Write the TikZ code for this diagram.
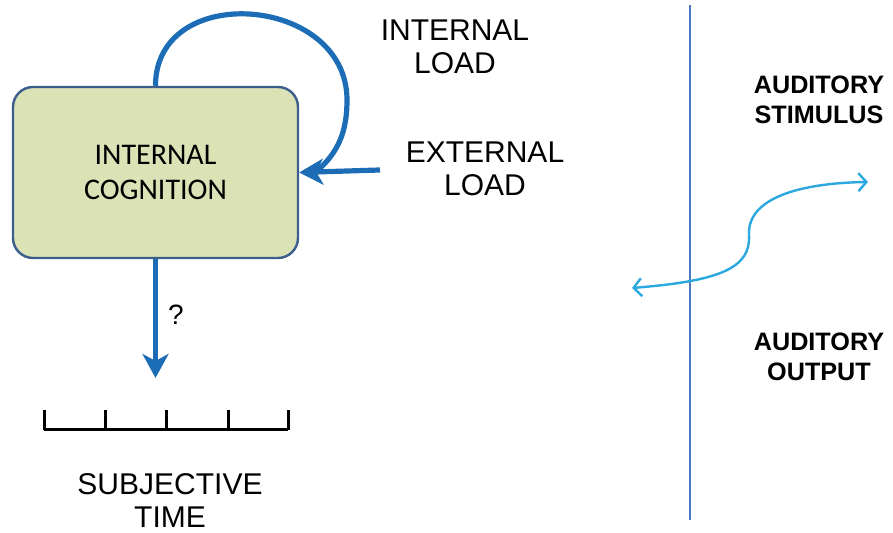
\documentclass[tikz,border=0pt]{standalone}
\usepackage{fontspec}
\setmainfont{Liberation Sans}
\newfontfamily\boxfont{Carlito}
\usepackage{tikz}
\usetikzlibrary{shapes,arrows,arrows.meta,positioning}
\definecolor{boxfill}{HTML}{DAE2B6}
\definecolor{boxline}{HTML}{3B5E8C}
\definecolor{loadblue}{HTML}{1C6DB6}
\definecolor{divline}{HTML}{4A78BC}
\definecolor{audcyan}{HTML}{2CA8E0}

\begin{document}
\begin{tikzpicture}[x=0.5pt,y=0.5pt,
				cogbox/.style={draw=boxline,line width=1.2pt,fill=boxfill,rounded corners=10pt,
					minimum width=142.5pt,minimum height=85.5pt,align=center,
					font=\boxfont\fontsize{15}{17.5}\selectfont},
				loadarrow/.style={draw=loadblue,line width=2.6pt,-{Stealth[length=12pt,width=13pt,inset=3.5pt]}},
				lbl/.style={align=center,inner sep=0pt,font=\fontsize{15}{16.5}\selectfont},
				audlbl/.style={align=center,inner sep=0pt,font=\bfseries\fontsize{12.6}{15}\selectfont}]
				\useasboundingbox (0,0) rectangle (893,533);
				\node[cogbox] (cog) at (155.5,360.5) {INTERNAL\\COGNITION};
				\node[lbl] (intload) at (455,486) {INTERNAL\\LOAD};
				\node[lbl] (extload) at (485,364) {EXTERNAL\\LOAD};
				\node[lbl] (subj) at (170,32) {SUBJECTIVE\\TIME};
				\node[audlbl] (stim) at (819,433) {AUDITORY\\STIMULUS};
				\node[audlbl] (outp) at (819,176) {AUDITORY\\OUTPUT};
				\node[font=\fontsize{14}{16}\selectfont] (qmark) at (176,218) {?};
				\coordinate (loopR) at (347,433);
				\coordinate (extR) at (380,363);
				\coordinate (tip) at (155.5,155);
				\coordinate (audL) at (632,245);
				\coordinate (audR) at (868,351);
				\draw[loadarrow,-] (cog.north) to[out=90,in=90,looseness=1.4] (loopR)
					to[out=-90,in=40] ([xshift=8pt]cog.east);
				\draw[loadarrow] (extR)--(cog.east);
				\draw[loadarrow] (cog.south)--(tip);
				\draw[line width=1.5pt] (44,103)--(288,103);
				\foreach \x in {44,105,166,228,288}{
					\draw[line width=1.5pt] (\x,103)--(\x,123);
				}
				\draw[divline,line width=1pt] (690,528)--(690,13);
				\draw[audcyan,line width=1.2pt,{Straight Barb[length=4pt,width=9pt]}-{Straight Barb[length=4pt,width=9pt]}]
					(audL) .. controls (720,252) and (751,265) .. (749,298)
					.. controls (747,335) and (800,350) .. (audR);
				\end{tikzpicture}
\end{document}
